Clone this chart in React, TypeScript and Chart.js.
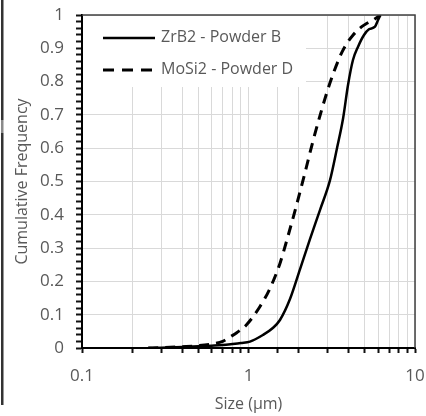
import React, { useEffect, useRef } from "react";
import { Chart, registerables } from "chart.js";

Chart.register(...registerables);

// ZrB2 - Powder B (solid)
const zrb2Sizes = [0.25, 0.3, 0.4, 0.5, 0.6, 0.7, 0.8, 0.9, 1.02, 1.22, 1.4, 1.545, 1.775, 2.04, 2.34, 2.69, 3.09, 3.4, 3.7, 3.96, 4.24, 4.55, 4.94, 5.29, 5.75, 6.0, 6.2];
const zrb2Values = [0, 0.001, 0.003, 0.005, 0.007, 0.009, 0.012, 0.015, 0.019, 0.039, 0.06, 0.084, 0.147, 0.237, 0.327, 0.415, 0.505, 0.6, 0.69, 0.79, 0.865, 0.905, 0.94, 0.957, 0.965, 0.985, 1.0];

// MoSi2 - Powder D (dashed)
const mosi2Sizes = [0.25, 0.3, 0.4, 0.5, 0.6, 0.7, 0.774, 0.85, 0.97, 1.17, 1.346, 1.545, 1.733, 1.945, 2.18, 2.45, 2.75, 3.08, 3.54, 3.79, 4.25, 4.79, 5.14, 5.6, 6.0, 6.2];
const mosi2Values = [0, 0.001, 0.004, 0.007, 0.012, 0.02, 0.033, 0.046, 0.069, 0.124, 0.179, 0.254, 0.339, 0.43, 0.525, 0.625, 0.715, 0.795, 0.875, 0.905, 0.94, 0.965, 0.975, 0.985, 0.995, 1.0];

const seriesNames = ["ZrB2 - Powder B", "MoSi2 - Powder D"];
const xTickLabels = [0.1, 1, 10];
const yLabelStep = 0.1;

const FONT = "'Open Sans', sans-serif";
const TEXT = "#595959";
const GRID = "#d9d9d9";

export default function App() {
  const ref = useRef<HTMLCanvasElement | null>(null);

  useEffect(() => {
    if (!ref.current) return;

    const overlay = {
      id: "overlay",
      beforeDatasetsDraw(chart: any) {
        const { ctx, chartArea } = chart;
        ctx.save();
        ctx.fillStyle = "#ffffff";
        ctx.fillRect(chartArea.left + 1, chartArea.top + 1, 223, 71);
        ctx.restore();
      },
      afterDatasetsDraw(chart: any) {
        const { ctx, chartArea } = chart;
        const l = chartArea.left;
        const t = chartArea.top;
        ctx.save();
        // legend
        ctx.strokeStyle = "#000";
        ctx.lineWidth = 2.5;
        ctx.setLineDash([]);
        ctx.beginPath();
        ctx.moveTo(l + 21, t + 23);
        ctx.lineTo(l + 73, t + 23);
        ctx.stroke();
        ctx.lineWidth = 3;
        ctx.setLineDash([11, 8]);
        ctx.beginPath();
        ctx.moveTo(l + 21, t + 55);
        ctx.lineTo(l + 73, t + 55);
        ctx.stroke();
        ctx.setLineDash([]);
        ctx.fillStyle = TEXT;
        ctx.font = `16px ${FONT}`;
        ctx.textBaseline = "middle";
        ctx.textAlign = "left";
        ctx.fillText(seriesNames[0], l + 79, t + 22);
        ctx.fillText(seriesNames[1], l + 79, t + 54);
        // top and right frame
        ctx.strokeStyle = "#404040";
        ctx.lineWidth = 1.5;
        ctx.beginPath();
        ctx.moveTo(chartArea.left, chartArea.top);
        ctx.lineTo(chartArea.right, chartArea.top);
        ctx.lineTo(chartArea.right, chartArea.bottom);
        ctx.stroke();
        ctx.restore();
      },
      afterDraw(chart: any) {
        const { ctx } = chart;
        ctx.save();
        ctx.fillStyle = "#333333";
        ctx.fillRect(1, 0, 2.5, 120);
        ctx.fillStyle = "#8a8a8a";
        ctx.fillRect(1, 120, 2.5, 13);
        ctx.fillStyle = "#333333";
        ctx.fillRect(1, 133, 2.5, 272);
        ctx.restore();
      },
    };

    const chart = new Chart(ref.current, {
      type: "line",
      data: {
        datasets: [
          {
            label: seriesNames[0],
            data: zrb2Sizes.map((x, i) => ({ x, y: zrb2Values[i] })),
            borderColor: "#000",
            borderWidth: 2.5,
            pointRadius: 0,
            cubicInterpolationMode: "monotone",
            fill: false,
          },
          {
            label: seriesNames[1],
            data: mosi2Sizes.map((x, i) => ({ x, y: mosi2Values[i] })),
            borderColor: "#000",
            borderWidth: 3,
            borderDash: [10, 7],
            pointRadius: 0,
            cubicInterpolationMode: "monotone",
            fill: false,
          },
        ],
      },
      options: {
        animation: false,
        responsive: true,
        maintainAspectRatio: false,
        layout: { padding: { top: 15, right: 11, left: 0, bottom: 0 } },
        plugins: {
          legend: { display: false },
          tooltip: { enabled: false },
        },
        scales: {
          x: {
            type: "logarithmic",
            min: 0.1,
            max: 10,
            border: { color: "#000", width: 2 },
            grid: {
              color: GRID,
              lineWidth: 1,
              tickColor: "#111",
              tickWidth: 2,
              tickLength: 5,
            },
            ticks: {
              autoSkip: false,
              maxRotation: 0,
              color: TEXT,
              font: { family: FONT, size: 17 },
              padding: 13,
              callback: (v: any) => {
                const n = Number(v);
                const m = xTickLabels.find((t) => Math.abs(t - n) < 1e-9);
                return m !== undefined ? String(m) : "";
              },
            },
            title: {
              display: true,
              text: "Size (µm)",
              color: TEXT,
              font: { family: FONT, size: 16 },
              padding: { top: 0, bottom: 2 },
            },
            afterFit: (s: any) => {
              s.height = 68;
              s.paddingLeft = 0;
              s.paddingRight = 0;
            },
          },
          y: {
            type: "linear",
            min: 0,
            max: 1,
            border: { color: "#000", width: 2 },
            grid: {
              color: (c: any) => (c.index % 5 === 0 ? GRID : "rgba(0,0,0,0)"),
              lineWidth: 1,
              tickColor: "#111",
              tickWidth: 2,
              tickLength: 6,
            },
            ticks: {
              stepSize: 0.02,
              autoSkip: false,
              color: TEXT,
              font: { family: FONT, size: 17 },
              padding: 12,
              callback: (v: any, i: number) => {
                if (i % 5 !== 0) return "";
                const n = Math.round(Number(v) / yLabelStep) * yLabelStep;
                return String(Number(n.toFixed(1)));
              },
            },
            title: {
              display: true,
              text: "Cumulative Frequency",
              color: TEXT,
              font: { family: FONT, size: 16 },
              padding: { top: 13, bottom: 0 },
            },
            afterFit: (s: any) => {
              s.width = 82;
              s.paddingTop = 0;
              s.paddingBottom = 0;
            },
          },
        },
      },
      plugins: [overlay],
    } as any);

    return () => chart.destroy();
  }, []);

  return (
    <div style={{ position: "fixed", left: 0, top: 0, width: 426, height: 416, background: "#fff" }}>
      <canvas ref={ref} />
    </div>
  );
}
